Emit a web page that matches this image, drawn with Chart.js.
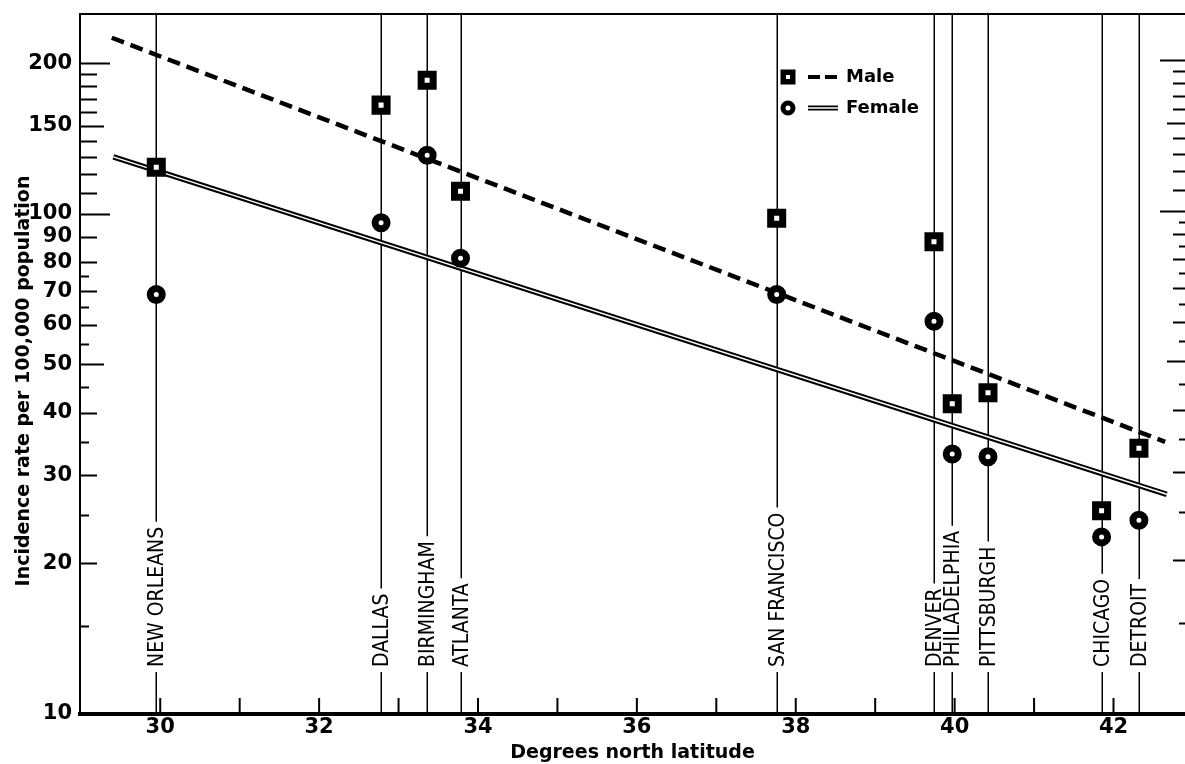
<!DOCTYPE html>
<html>
<head>
<meta charset="utf-8">
<script src="https://cdn.jsdelivr.net/npm/chart.js@4.4.0/dist/chart.umd.min.js"></script>
<style>
  html, body { margin: 0; padding: 0; background: #fff; }
  #wrap { width: 1185px; height: 764px; }
</style>
</head>
<body>
<div id="wrap"><canvas id="chart" width="1185" height="764"></canvas></div>
<script>
// cities and their latitude (degrees north)
const cities = ['NEW ORLEANS', 'DALLAS', 'BIRMINGHAM', 'ATLANTA', 'SAN FRANCISCO',
  'DENVER', 'PHILADELPHIA', 'PITTSBURGH', 'CHICAGO', 'DETROIT'];
const latitudes = [29.95, 32.78, 33.36, 33.78, 37.76, 39.74, 39.97, 40.42, 41.85, 42.32];

// incidence rate per 100,000 population
const maleRates = [124, 165, 185, 111, 98, 88, 41.7, 43.9, 25.5, 34];
const femaleRates = [69, 96, 131, 81.5, 69, 61, 33.1, 32.7, 22.6, 24.4];

// fitted lines (end points)
const maleFitX = [29.39, 42.65];
const maleFitY = [225, 35];
const femaleFitX = [29.41, 42.67];
const femaleFitY = [130, 27.5];

// axis ticks
const xTicks = [30, 32, 34, 36, 38, 40, 42];
const xMinorTicks = [31, 33, 35, 37, 39, 41];
const yTicks = [10, 20, 30, 40, 50, 60, 70, 80, 90, 100, 150, 200];
const yLongTicks = [100, 200];
const yMidTicks = [50, 150];
const yNormalTicks = [20, 30, 40, 60, 70, 80, 90, 110, 120, 130, 140, 160, 170, 180, 190];
const yHalfTicks = [15, 25, 35, 45, 55, 65, 75];
const yRightExtraTicks = [85, 95];

const BOLD = '"DejaVu Sans", "Liberation Sans", sans-serif';
const COND = '"DejaVu Sans Condensed", "Liberation Sans Narrow", "DejaVu Sans", sans-serif';

const pts = (xs, ys) => xs.map((v, i) => ({x: v, y: ys[i]}));

const decor = {
  id: 'decor',
  beforeDatasetsDraw(chart) {
    const {ctx, chartArea: a, scales: {x, y}} = chart;
    ctx.save();
    ctx.strokeStyle = '#000';
    ctx.fillStyle = '#000';

    // top frame line
    ctx.lineWidth = 2;
    ctx.beginPath();
    ctx.moveTo(a.left, a.top);
    ctx.lineTo(a.right, a.top);
    ctx.stroke();

    // y ticks, left side pointing in, right side pointing in
    const tickSet = (vals, lenL, lenR) => {
      vals.forEach(v => {
        const py = Math.round(y.getPixelForValue(v)) + 0.5;
        ctx.beginPath();
        if (lenL) { ctx.moveTo(a.left, py); ctx.lineTo(a.left + lenL, py); }
        if (lenR) { ctx.moveTo(a.right, py - 3); ctx.lineTo(a.right - lenR, py - 3); }
        ctx.stroke();
      });
    };
    ctx.lineWidth = 2;
    tickSet(yLongTicks, 30, 25);
    tickSet(yMidTicks, 24, 18);
    tickSet(yNormalTicks, 17, 12);
    tickSet(yHalfTicks, 9, 6);
    tickSet(yRightExtraTicks, 0, 6);

    // x ticks pointing up
    xTicks.concat(xMinorTicks).forEach(v => {
      const px = x.getPixelForValue(v);
      ctx.beginPath();
      ctx.moveTo(px, a.bottom);
      ctx.lineTo(px, a.bottom - 16);
      ctx.stroke();
    });

    // city lines with rotated names
    ctx.font = '21px ' + COND;
    ctx.lineWidth = 1.5;
    cities.forEach((c, i) => {
      const px = Math.round(x.getPixelForValue(latitudes[i])) + 0.25;
      const base = a.bottom - 47;
      const w = ctx.measureText(c).width;
      ctx.beginPath();
      ctx.moveTo(px, a.top);
      ctx.lineTo(px, base - w - 5);
      ctx.moveTo(px, base + 5);
      ctx.lineTo(px, a.bottom);
      ctx.stroke();
      ctx.save();
      ctx.translate(px, base);
      ctx.rotate(-Math.PI / 2);
      ctx.textAlign = 'left';
      ctx.textBaseline = 'middle';
      ctx.fillText(c, 0, 1);
      ctx.restore();
    });
    ctx.restore();
  },
  afterDraw(chart) {
    const {ctx} = chart;
    ctx.save();
    ctx.fillStyle = '#000';
    ctx.strokeStyle = '#000';

    // y axis title
    ctx.font = 'bold 19px ' + BOLD;
    ctx.translate(24, 381);
    ctx.rotate(-Math.PI / 2);
    ctx.textAlign = 'center';
    ctx.textBaseline = 'middle';
    ctx.fillText('Incidence rate per 100,000 population', 0, 0);
    ctx.setTransform(1, 0, 0, 1, 0, 0);

    // legend
    const lx = 788, ly1 = 77, ly2 = 108;
    ctx.fillRect(lx - 7.5, ly1 - 7.5, 15, 15);
    ctx.fillStyle = '#fff';
    ctx.fillRect(lx - 2, ly1 - 2, 4, 4);
    ctx.fillStyle = '#000';
    ctx.lineWidth = 4;
    ctx.beginPath();
    ctx.moveTo(808, ly1); ctx.lineTo(820, ly1);
    ctx.moveTo(825, ly1); ctx.lineTo(837, ly1);
    ctx.stroke();

    ctx.lineWidth = 5;
    ctx.beginPath();
    ctx.arc(lx, ly2, 5, 0, Math.PI * 2);
    ctx.stroke();
    ctx.lineWidth = 5;
    ctx.beginPath();
    ctx.moveTo(808, ly2); ctx.lineTo(838, ly2);
    ctx.stroke();
    ctx.strokeStyle = '#fff';
    ctx.lineWidth = 1.5;
    ctx.beginPath();
    ctx.moveTo(807, ly2); ctx.lineTo(839, ly2);
    ctx.stroke();

    ctx.font = 'bold 18px ' + BOLD;
    ctx.textAlign = 'left';
    ctx.textBaseline = 'alphabetic';
    ctx.fillText('Male', 846, 82);
    ctx.fillText('Female', 846, 113);
    ctx.restore();
  }
};

new Chart(document.getElementById('chart'), {
  type: 'scatter',
  data: {
    datasets: [
      {
        type: 'line', label: 'Female fit', data: pts(femaleFitX, femaleFitY),
        borderColor: '#000', borderWidth: 5.5, pointRadius: 0, fill: false, order: 5
      },
      {
        type: 'line', label: 'Female fit inner', data: pts(femaleFitX, femaleFitY),
        borderColor: '#fff', borderWidth: 1.5, pointRadius: 0, fill: false, order: 4
      },
      {
        type: 'line', label: 'Male fit', data: pts(maleFitX, maleFitY),
        borderColor: '#000', borderWidth: 4.5, borderDash: [13, 7], pointRadius: 0, fill: false, order: 3
      },
      {
        label: 'Male', data: pts(latitudes, maleRates), pointStyle: 'rect',
        pointRadius: 8.5, borderWidth: 7, backgroundColor: '#fff', borderColor: '#000', order: 2
      },
      {
        label: 'Female', data: pts(latitudes, femaleRates), pointStyle: 'circle',
        pointRadius: 6, borderWidth: 7, backgroundColor: '#fff', borderColor: '#000', order: 1
      }
    ]
  },
  options: {
    responsive: false,
    animation: false,
    devicePixelRatio: 1,
    layout: { autoPadding: false, padding: { top: 14, left: 0, right: 0, bottom: 0 } },
    plugins: { legend: { display: false }, tooltip: { enabled: false } },
    scales: {
      x: {
        type: 'linear', min: 28.99, max: 42.9,
        afterBuildTicks: s => { s.ticks = xTicks.map(v => ({value: v})); },
        afterFit: s => { s.height = 50; s.paddingLeft = 0; s.paddingRight = 0; },
        grid: { display: false, drawTicks: false },
        border: { display: true, color: '#000', width: 4 },
        ticks: {
          color: '#000', padding: 1, autoSkip: false, maxRotation: 0,
          font: { family: BOLD, weight: 'bold', size: 21 },
          callback: v => String(v)
        },
        title: {
          display: true, text: 'Degrees north latitude', color: '#000', padding: 0,
          font: { family: BOLD, weight: 'bold', size: 19 }
        }
      },
      y: {
        type: 'logarithmic', min: 10, max: 251,
        afterBuildTicks: s => { s.ticks = yTicks.map(v => ({value: v})); },
        afterFit: s => { s.width = 80; s.paddingTop = 0; s.paddingBottom = 0; },
        grid: { display: false, drawTicks: false },
        border: { display: true, color: '#000', width: 2 },
        ticks: {
          color: '#000', padding: 8, autoSkip: false,
          font: { family: BOLD, weight: 'bold', size: 21 },
          callback: v => String(v)
        }
      }
    }
  },
  plugins: [decor]
});
</script>
</body>
</html>
